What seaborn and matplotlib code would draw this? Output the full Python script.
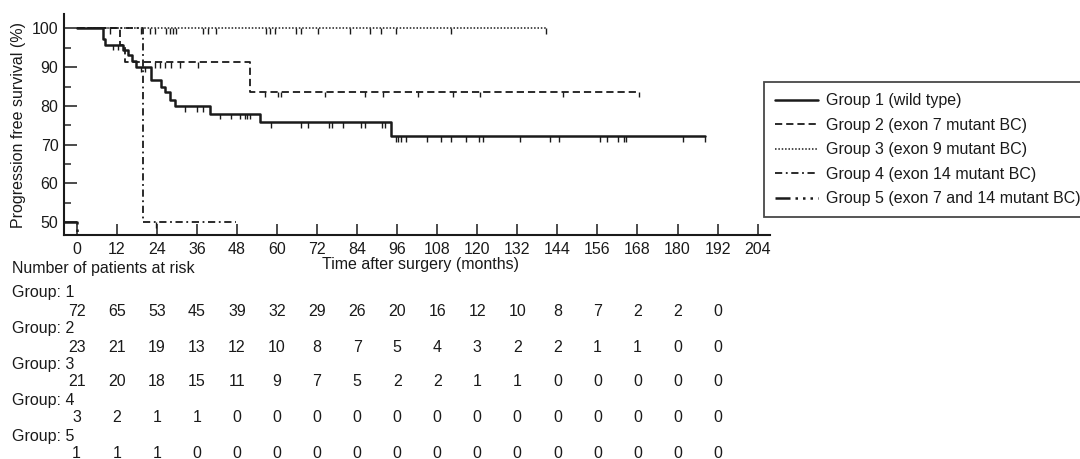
import numpy as np
import pandas as pd
import seaborn as sns
from matplotlib import pyplot as plt
from matplotlib import transforms

sns.set_theme(style="ticks")
plt.rcParams["font.family"] = ["Liberation Sans", "DejaVu Sans"]

# step curves: time (months), progression free survival (%)
g1_time = [0, 7.9, 8.4, 13.9, 15.5, 16.5, 17.7, 22.4, 25.4, 26.4, 27.9, 29.4, 39.8, 54.8, 94.3, 188.2]
g1_surv = [100, 97.2, 95.8, 94.4, 93.0, 91.6, 90.1, 86.7, 85.0, 83.7, 81.5, 79.9, 78.0, 75.8, 72.2, 72.2]
g1_cens = [10.9, 12.3, 19.4, 20.4, 32.4, 35.9, 37.8, 42.8, 46.3, 48.8, 50.3, 51.0, 51.8,
           58.3, 67.3, 69.3, 75.6, 76.6, 79.8, 85.3, 86.3, 91.6, 92.3,
           95.8, 96.3, 97.3, 98.8, 104.8, 109.1, 112.1, 116.6, 120.6, 121.8, 132.8,
           141.7, 144.5, 156.7, 159.0, 162.2, 164.0, 164.5, 181.7, 188.2]

g2_time = [0, 13.0, 14.4, 51.9, 168.5]
g2_surv = [100, 95.7, 91.3, 83.7, 83.7]
g2_cens = [23.4, 24.9, 26.4, 28.4, 30.9, 36.4, 56.3, 60.3, 61.3, 74.3, 86.3, 91.8,
           102.3, 112.6, 120.7, 145.7, 168.5]

g3_time = [0, 140.7]
g3_surv = [100, 100]
g3_cens = [10.0, 19.4, 21.9, 23.4, 26.9, 27.9, 28.9, 29.9, 37.8, 39.3, 41.8, 56.8, 57.8,
           59.3, 65.8, 67.3, 72.3, 81.8, 87.8, 91.3, 95.8, 112.1, 140.7]

g4_time = [0, 19.9, 47.8]
g4_surv = [100, 50, 50]
g4_cens = [23.9]

g5_time = [-3.8, 0]
g5_surv = [50, 46.7]
g5_cens = []

labels = [
    "Group 1 (wild type)",
    "Group 2 (exon 7 mutant BC)",
    "Group 3 (exon 9 mutant BC)",
    "Group 4 (exon 14 mutant BC)",
    "Group 5 (exon 7 and 14 mutant BC)",
]

# number at risk table
risk_months = [0, 12, 24, 36, 48, 60, 72, 84, 96, 108, 120, 132, 144, 156, 168, 180, 192]
risk_g1 = [72, 65, 53, 45, 39, 32, 29, 26, 20, 16, 12, 10, 8, 7, 2, 2, 0]
risk_g2 = [23, 21, 19, 13, 12, 10, 8, 7, 5, 4, 3, 2, 2, 1, 1, 0, 0]
risk_g3 = [21, 20, 18, 15, 11, 9, 7, 5, 2, 2, 1, 1, 0, 0, 0, 0, 0]
risk_g4 = [3, 2, 1, 1, 0, 0, 0, 0, 0, 0, 0, 0, 0, 0, 0, 0, 0]
risk_g5 = [1, 1, 1, 0, 0, 0, 0, 0, 0, 0, 0, 0, 0, 0, 0, 0, 0]

ink = "#1a1a1a"
fs = 11.5
W, H = 1080, 459

fig = plt.figure(figsize=(W / 100, H / 100), dpi=100)
ax = fig.add_axes([64 / W, 1 - 235 / H, 706 / W, 221 / H])

curves = [
    (g1_time, g1_surv, g1_cens, "-", 1.8),
    (g2_time, g2_surv, g2_cens, (0, (4, 2.2)), 1.3),
    (g3_time, g3_surv, g3_cens, (0, (1, 1.2)), 1.1),
    (g4_time, g4_surv, g4_cens, (0, (4, 2, 1, 2)), 1.3),
    (g5_time, g5_surv, g5_cens, (0, (6, 2, 1, 2, 1, 2, 1, 2)), 1.8),
]

for (t, s, c, ls, lw), lab in zip(curves, labels):
    df = pd.DataFrame({"time": t, "surv": s})
    sns.lineplot(
        data=df, x="time", y="surv", ax=ax, color=ink, linestyle=ls, linewidth=lw,
        drawstyle="steps-post", estimator=None, sort=False, label=lab,
    )
    # censor marks hang below the curve at the step value
    if c:
        idx = np.searchsorted(t, c, side="right") - 1
        lvl = np.array(s)[idx]
        ax.vlines(c, lvl - 1.4, lvl, color=ink, linewidth=1.0)

ax.set_xlim(-3.8, 207.7)
ax.set_ylim(46.7, 103.7)
ax.set_xticks(risk_months + [204])
ax.set_yticks(range(50, 101, 10))
ax.set_yticks(range(55, 100, 10), minor=True)
ax.tick_params(axis="x", direction="in", length=8, width=1.1, pad=5, labelsize=fs, colors=ink)
ax.tick_params(axis="y", which="major", direction="in", length=9.5, width=1.1, pad=4, labelsize=fs, colors=ink)
ax.tick_params(axis="y", which="minor", direction="in", length=5, width=1.1)
for side in ["top", "right"]:
    ax.spines[side].set_visible(False)
for side in ["left", "bottom"]:
    ax.spines[side].set_linewidth(1.5)
    ax.spines[side].set_color(ink)

ax.set_xlabel("Time after surgery (months)", fontsize=fs, color=ink)
ax.xaxis.set_label_coords((421 - 64) / 706, -(265 - 235) / 221)
ax.xaxis.label.set_va("center")
ax.set_ylabel("Progression free survival (%)", fontsize=fs, color=ink)
ax.yaxis.set_label_coords((18 - 64) / 706, (235 - 125) / 221)
ax.yaxis.label.set_va("center")

leg = ax.legend(
    loc="upper left", bbox_to_anchor=(764 / W, 1 - 82.3 / H), bbox_transform=fig.transFigure,
    fancybox=False, frameon=True, edgecolor=ink, fontsize=fs, handlelength=2.7,
    handletextpad=0.48, labelspacing=0.59, borderpad=0.7, borderaxespad=0,
)
leg.get_frame().set_linewidth(1.3)
for txt in leg.get_texts():
    txt.set_color(ink)

# risk table below the axes
tr = transforms.blended_transform_factory(ax.transData, fig.transFigure)
fig.text(11.7 / W, 1 - 268 / H, "Number of patients at risk", fontsize=fs, color=ink, va="center")
rows = [risk_g1, risk_g2, risk_g3, risk_g4, risk_g5]
label_y = [292, 328, 365, 401, 436]
num_y = [312, 347, 382, 418, 453]
for i, row in enumerate(rows):
    fig.text(11.7 / W, 1 - label_y[i] / H, f"Group: {i + 1}", fontsize=fs, color=ink, va="center")
    for m, n in zip(risk_months, row):
        ax.text(m, 1 - num_y[i] / H, str(n), transform=tr, fontsize=fs, color=ink,
                ha="center", va="center", clip_on=False)

fig.savefig("out.png", dpi=100)
